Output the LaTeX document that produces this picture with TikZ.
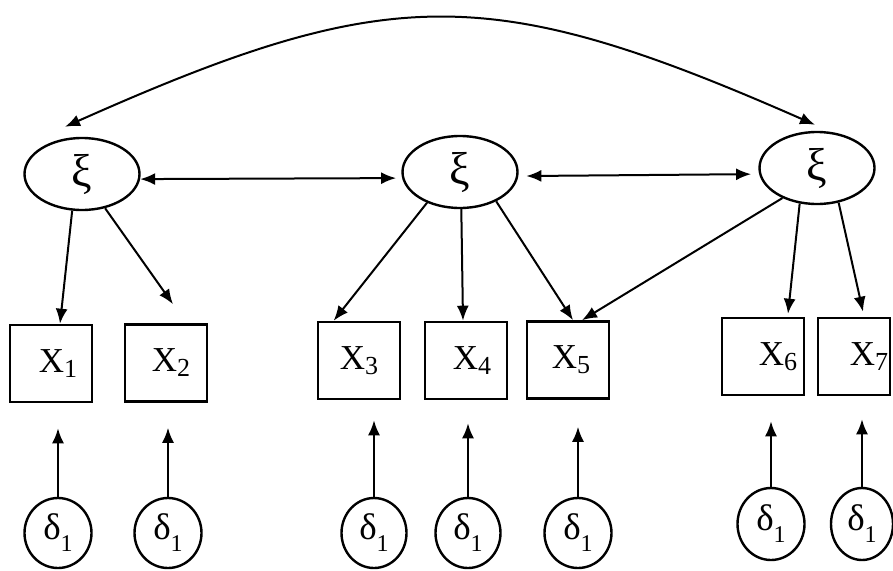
\documentclass[tikz,border=0pt]{standalone}
\usepackage{fontspec}
\setmainfont{Liberation Serif}
\usetikzlibrary{arrows.meta,shapes.geometric}
\newcommand\xlab[2]{\hspace*{#1}X\raisebox{-5pt}{\fontsize{26}{26}\selectfont #2}}
\newcommand\dlab{δ\raisebox{-12pt}{\fontsize{24}{24}\selectfont 1}}
\begin{document}
\begin{tikzpicture}[x=1pt,y=-1pt,
  lat/.style={draw, ellipse, line width=2.4pt, minimum width=115pt, minimum height=72pt, inner sep=0pt, font=\fontsize{46}{46}\selectfont},
  obs/.style={draw, rectangle, line width=2.6pt, minimum width=82pt, minimum height=77pt, inner sep=0pt, font=\fontsize{35}{35}\selectfont},
  err/.style={draw, ellipse, line width=2.4pt, minimum width=67pt, minimum height=70pt, inner sep=0pt, font=\fontsize{37}{37}\selectfont},
  tip/.tip={Latex[length=15pt,width=12pt]},
  arr/.style={-tip, line width=2pt},
  darr/.style={tip-tip, line width=2pt}
]
\useasboundingbox (0,0) rectangle (893,570);
% latent variables
\node[lat] (E1) at (82,174) {ξ};
\node[lat] (E2) at (460,172) {ξ};
\node[lat] (E3) at (817,168) {ξ};
% observed variables
\node[obs] (X1) at (51,363.5) {\xlab{14pt}{1}};
\node[obs] (X2) at (166,363) {\xlab{10pt}{2}};
\node[obs] (X3) at (359,360.5) {\xlab{0pt}{3}};
\node[obs] (X4) at (466,360.5) {\xlab{12pt}{4}};
\node[obs] (X5) at (568,360) {\xlab{6pt}{5}};
\node[obs] (X6) at (763,356.5) {\xlab{30pt}{6}};
\node[obs, minimum width=72pt] (X7) at (854,356.5) {\xlab{30pt}{7}};
% errors
\node[err] (D1) at (58,533) {\dlab};
\node[err] (D2) at (168,533) {\dlab};
\node[err, minimum width=65pt] (D3) at (374,533) {\dlab};
\node[err, minimum width=65pt] (D4) at (468,533) {\dlab};
\node[err] (D5) at (578,533) {\dlab};
\node[err, minimum height=72pt] (D6) at (771,524) {\dlab};
\node[err, minimum width=62pt, minimum height=72pt] (D7) at (862,524) {\dlab};
% top covariance arc
\coordinate (t1) at ([xshift=-17pt,yshift=10pt]E1.north);
\coordinate (t3) at ([xshift=-2pt,yshift=6pt]E3.north);
\draw[darr] (t1) .. controls (390,-18) and (490,-18) .. (t3);
% horizontal covariances
\draw[darr, shorten >=6pt] (E1.-5) -- (E2.186);
\draw[darr, shorten <=8pt, shorten >=8pt] (E2.-4) -- (E3.186);
% loadings
\draw[arr] (E1.-105) -- ([xshift=9pt]X1.north);
\draw[arr] (E1.-56) -- ([xshift=7pt,yshift=19pt]X2.north);
\draw[arr] (E2.-137) -- ([xshift=17pt]X3.north west);
\draw[arr] (E2.-88) -- ([xshift=-3pt]X4.north);
\draw[arr] (E2.-39) -- ([xshift=5pt]X5.north);
\draw[arr] (E3.-139) -- ([xshift=14pt]X5.north);
\draw[arr] (E3.-116) -- ([xshift=25pt,yshift=3pt]X6.north);
\draw[arr] (E3.-58) -- ([xshift=9pt,yshift=5pt]X7.north);
% errors to indicators
\draw[arr, shorten >=25pt] (D1.north) -- (D1.north |- X1.south);
\draw[arr, shorten >=25pt] (D2.north) -- (D2.north |- X2.south);
\draw[arr, shorten >=20pt] (D3.north) -- (D3.north |- X3.south);
\draw[arr, shorten >=23pt] (D4.north) -- (D4.north |- X4.south);
\draw[arr, shorten >=27pt] (D5.north) -- (D5.north |- X5.south);
\draw[arr, shorten >=25pt] (D6.north) -- (D6.north |- X6.south);
\draw[arr, shorten >=23pt] (D7.north) -- (D7.north |- X7.south);
\end{tikzpicture}
\end{document}
